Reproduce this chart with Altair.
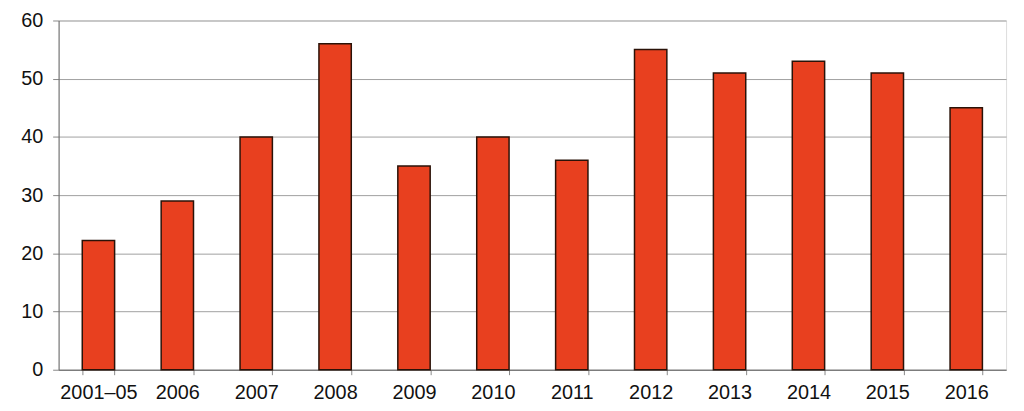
import altair as alt
import pandas as pd

categories = ["2001–05", "2006", "2007", "2008", "2009", "2010", "2011", "2012", "2013", "2014", "2015", "2016"]
values = [22.2, 29, 40, 56, 35, 40, 36, 55, 51, 53, 51, 45]

df = pd.DataFrame({"period": categories, "value": values})

chart = alt.Chart(df).mark_bar(
    color="#E8401F", stroke="#2a1208", strokeWidth=1.5
).encode(
    x=alt.X("period:N", sort=categories, title=None,
            scale=alt.Scale(paddingInner=0.59, paddingOuter=0.3),
            axis=alt.Axis(labelAngle=0, labelFont="Liberation Sans", labelFontSize=20,
                          labelColor="#111", tickBand="extent", tickSize=5,
                          tickColor="#888", domainColor="#666", labelPadding=8, grid=False)),
    y=alt.Y("value:Q", title=None,
            scale=alt.Scale(domain=[0, 60], nice=False),
            axis=alt.Axis(values=[0, 10, 20, 30, 40, 50, 60], labelFont="Liberation Sans",
                          labelFontSize=20, labelColor="#111", tickSize=6, tickColor="#888",
                          domainColor="#666", gridColor="#a0a0a0", labelPadding=10)),
).properties(
    width=955, height=352,
    autosize=alt.AutoSizeParams(type="none"),
    padding={"left": 51, "top": 11, "right": 10, "bottom": 40},
).configure_view(stroke="#888", strokeWidth=1.5).configure(background="white")

chart.save("out.html", embed_options={"renderer": "svg", "actions": False})
